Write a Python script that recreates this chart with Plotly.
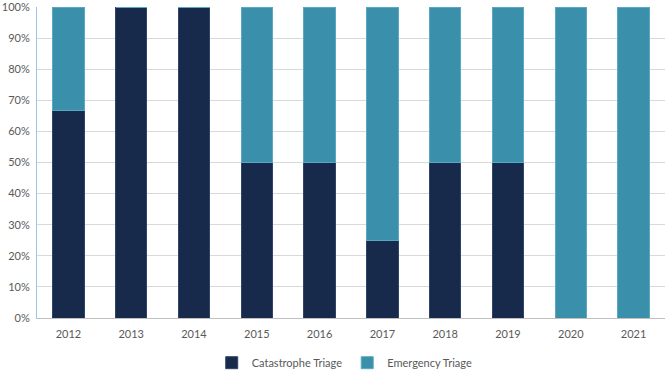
import plotly.graph_objects as go

years = ["2012", "2013", "2014", "2015", "2016", "2017", "2018", "2019", "2020", "2021"]
catastrophe = [2, 1, 1, 1, 1, 1, 1, 1, 0, 0]
emergency = [1, 0, 0, 1, 1, 3, 1, 1, 1, 1]

navy = "#172A4B"
teal = "#3A8FAA"

fig = go.Figure()
fig.add_trace(go.Bar(x=years, y=catastrophe, name="Catastrophe Triage",
                     marker=dict(color=navy, line=dict(color="#2E4468", width=1))))
fig.add_trace(go.Bar(x=years, y=emergency, name="Emergency Triage",
                     marker=dict(color=teal, line=dict(color="#5AA9C2", width=1))))

fig.update_layout(
    barmode="stack", barnorm="percent", bargap=0.5,
    width=669, height=372,
    margin=dict(l=37, r=4, t=7, b=54, autoexpand=False),
    paper_bgcolor="white", plot_bgcolor="white",
    font=dict(family="Lato, Open Sans, sans-serif", size=11, color="#595959"),
    legend=dict(orientation="h", x=0.49, xanchor="center", yref="container", y=0.025,
                yanchor="middle", font=dict(size=11, color="#595959"), traceorder="normal",
                itemwidth=30),
    showlegend=True,
)
fig.update_yaxes(range=[0, 100], dtick=10, ticksuffix="%", showgrid=True, gridcolor="#D9D9D9",
                 gridwidth=1, zeroline=False, showline=True, linecolor="#9DC3E6", linewidth=1,
                 ticks="", ticklabelstandoff=4, automargin=False, ticklabeloverflow="allow")
fig.update_xaxes(showline=True, linecolor="#BFBFBF", linewidth=1, ticks="", ticklabelstandoff=6,
                 automargin=False)

fig.write_html("out.html", config={"displayModeBar": False},
               post_script="document.body.style.margin='0';document.body.style.overflow='hidden';")
